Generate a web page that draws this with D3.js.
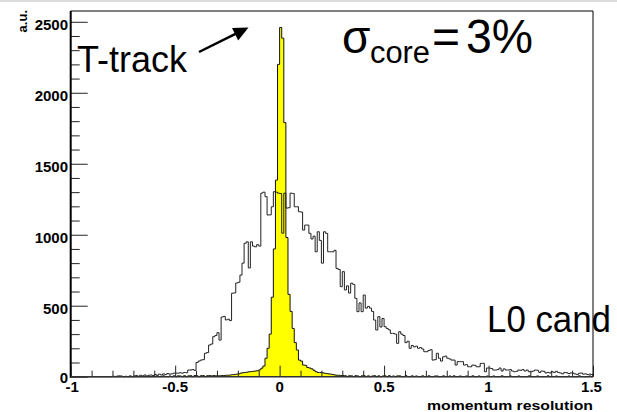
<!DOCTYPE html>
<html>
<head>
<meta charset="utf-8">
<script src="https://cdn.jsdelivr.net/npm/d3@7"></script>
<style>
  html, body { margin: 0; padding: 0; background: #fff; }
  svg { display: block; }
</style>
</head>
<body>
<svg id="chart" width="617" height="412"></svg>
<script>
// ---- data (250 bins of width 0.01 from -1 to 1.5) ----
const binStart = -1.0;
const binWidth = 0.01;

// L0 candidates (open histogram)
const l0Counts = [
  0,0,0,0,0,0,0,0,0,0,
  0,0,0,0,0,0,0,0,0,0,
  3,0,5,6,4,0,3,0,6,0,
  5,8,3,10,6,12,5,10,12,8,
  15,10,18,12,20,15,22,18,20,25,
  25,25,28,25,30,28,47,47,50,45,
  100,110,117,120,165,170,223,230,282,290,
  310,258,420,425,400,405,395,588,590,660,
  665,716,800,940,950,766,950,920,915,930,
  920,1293,1300,1268,1139,1140,1197,1303,1300,1293,
  1290,1011,1293,1188,1190,1293,1290,1197,1197,1162,
  1160,1033,1068,1068,1010,970,990,880,1021,960,
  800,1021,1010,880,880,880,890,763,755,634,
  740,611,640,589,659,650,552,458,520,458,
  575,483,495,483,460,399,329,423,350,410,
  352,340,330,305,305,300,235,317,300,290,
  240,250,200,220,210,215,200,205,195,176,
  176,185,190,117,120,165,130,110,140,145,
  130,125,117,117,82,106,106,106,82,85,
  70,70,82,80,70,70,94,94,35,61,
  61,58,47,47,50,61,40,55,47,47,
  50,40,35,38,47,45,50,40,47,35,
  35,40,47,45,30,40,38,26,30,26,
  35,30,38,30,26,20,30,28,22,26,
  25,20,15,24,26,18,20,15,18,16
];

// T-track (yellow filled histogram)
const tTrackCounts = [
  0,0,0,0,0,0,0,0,0,0,
  0,0,0,0,0,0,0,0,0,0,
  0,0,0,0,0,0,0,0,0,0,
  0,0,0,0,0,0,0,0,0,0,
  0,5,0,0,6,0,0,5,0,6,
  0,6,5,0,7,0,6,7,0,8,
  6,0,7,8,0,7,8,5,8,6,
  6,6,8,8,10,10,12,14,15,18,
  20,25,28,30,32,35,36,38,40,42,
  48,60,75,130,200,300,560,900,1385,2200,
  2460,2385,1790,980,580,460,340,240,188,117,
  110,82,80,65,61,55,45,35,30,30,
  28,25,22,20,18,15,12,10,10,8,
  8,7,0,7,6,0,7,5,0,6,
  7,0,6,0,5,7,0,6,0,5,
  6,0,7,0,5,0,6,6,0,0,
  7,0,0,6,0,5,0,0,6,0,
  0,6,0,0,5,5,0,0,6,0,
  0,5,0,6,0,0,5,0,0,5,
  0,0,6,0,0,5,0,0,0,5,
  0,0,5,0,0,0,6,0,0,0,
  5,0,0,0,5,0,0,0,0,6,
  0,0,0,5,0,0,0,0,6,0,
  0,0,5,0,0,0,0,0,5,0,
  0,0,0,6,0,0,0,0,5,0
];

const xTickValues = [-1, -0.5, 0, 0.5, 1, 1.5];
const xTickLabels = ["-1", "-0.5", "0", "0.5", "1", "1.5"];
const yTickValues = [0, 500, 1000, 1500, 2000, 2500];
const yTickLabels = ["0", "500", "1000", "1500", "2000", "2500"];
const xTitle = "momentum resolution";
const yTitle = "a.u.";

// ---- layout ----
const svg = d3.select("#chart");
const padL = 70.7, padR = 593, padT = 11, padB = 376.7;

const x = d3.scaleLinear().domain([-1, 1.5]).range([padL, padR]);
const y = d3.scaleLinear().domain([0, 2576]).range([padB, padT]);

// top light border of canvas
svg.append("rect").attr("x", 0).attr("y", 0).attr("width", 617).attr("height", 2).attr("fill", "#dcdcdc");

function stepPoints(counts) {
  const pts = [[binStart, 0]];
  counts.forEach((v, i) => {
    const lo = binStart + i * binWidth;
    const hi = lo + binWidth;
    pts.push([lo, v]);
    pts.push([hi, v]);
  });
  pts.push([binStart + counts.length * binWidth, 0]);
  return pts;
}

const line = d3.line().x(d => x(d[0])).y(d => y(d[1]));
const area = d3.area().x(d => x(d[0])).y0(y(0)).y1(d => y(d[1]));

const tPts = stepPoints(tTrackCounts);
svg.append("path").attr("d", area(tPts)).attr("fill", "#ffff00").attr("stroke", "none");
svg.append("path").attr("d", line(tPts)).attr("fill", "none").attr("stroke", "#111").attr("stroke-width", 1);

const lPts = stepPoints(l0Counts);
svg.append("path").attr("d", line(lPts)).attr("fill", "none").attr("stroke", "#222").attr("stroke-width", 1);

// frame
svg.append("line").attr("x1", padL).attr("x2", padR).attr("y1", padT).attr("y2", padT).attr("stroke", "#000").attr("stroke-width", 1);
svg.append("line").attr("x1", padR).attr("x2", padR).attr("y1", padT).attr("y2", padB).attr("stroke", "#000").attr("stroke-width", 1);

// Y axis
const yAxis = d3.axisRight(y).tickValues(d3.range(0, 2600, 100)).tickSize(9).tickFormat("");
const yg = svg.append("g").attr("transform", `translate(${padL},0)`).call(yAxis);
yg.select(".domain").remove();
yg.selectAll(".tick line").attr("stroke", "#222")
  .attr("x2", d => (d % 500 === 0 ? 17 : 9));
svg.append("line").attr("x1", padL).attr("x2", padL).attr("y1", padT).attr("y2", padB + 1).attr("stroke", "#000").attr("stroke-width", 2);

const font = "Liberation Sans, Arial, sans-serif";

yTickValues.forEach((v, i) => {
  svg.append("text").attr("x", 68).attr("y", y(v) + (v === 0 ? 6.5 : 8))
    .attr("text-anchor", "end")
    .attr("font-family", font)
    .attr("font-weight", "bold").attr("font-size", 15)
    .text(yTickLabels[i]);
});

// X axis
const xAxis = d3.axisTop(x).tickValues(d3.range(-10, 16, 1).map(d => d / 10)).tickSize(6).tickFormat("");
const xg = svg.append("g").attr("transform", `translate(0,${padB})`).call(xAxis);
xg.select(".domain").remove();
xg.selectAll(".tick line").attr("stroke", "#222")
  .attr("y2", d => (Math.abs(d * 2 - Math.round(d * 2)) < 1e-6 ? -11 : -6));
svg.append("line").attr("x1", padL).attr("x2", padR).attr("y1", padB).attr("y2", padB).attr("stroke", "#333").attr("stroke-width", 1.5);

xTickValues.forEach((v, i) => {
  svg.append("text").attr("x", x(v) + (v === -1 ? 1.5 : 0) - (v === 1.5 ? 1.5 : 0)).attr("y", 392)
    .attr("text-anchor", "middle")
    .attr("font-family", font)
    .attr("font-weight", "bold").attr("font-size", 15)
    .text(xTickLabels[i]);
});

// axis titles
svg.append("text").attr("x", 593).attr("y", 409.5)
  .attr("text-anchor", "end")
  .attr("font-family", font)
  .attr("font-weight", "bold").attr("font-size", 12.5)
  .attr("textLength", 166).attr("lengthAdjust", "spacingAndGlyphs")
  .text(xTitle);
svg.append("text").attr("transform", "translate(27,10) rotate(-90)")
  .attr("text-anchor", "end")
  .attr("font-family", font)
  .attr("font-weight", "bold").attr("font-size", 13)
  .text(yTitle);

// annotations
svg.append("text").attr("x", 77).attr("y", 72).attr("font-family", font).attr("font-size", 36)
  .attr("textLength", 110).attr("lengthAdjust", "spacingAndGlyphs").text("T-track");
svg.append("line").attr("x1", 199).attr("y1", 52).attr("x2", 237).attr("y2", 33.2)
  .attr("stroke", "#000").attr("stroke-width", 2.5);
svg.append("polygon").attr("points", "248.5,27.5 238.2,40.4 232.0,28.0").attr("fill", "#000");

svg.append("text").attr("x", 342).attr("y", 53).attr("font-family", font).attr("font-size", 46).text("σ");
svg.append("text").attr("x", 370).attr("y", 63).attr("font-family", font).attr("font-size", 31)
  .attr("textLength", 60).attr("lengthAdjust", "spacingAndGlyphs").text("core");
svg.append("text").attr("x", 432).attr("y", 53).attr("font-family", font).attr("font-size", 48).text("=");
svg.append("text").attr("x", 466).attr("y", 53).attr("font-family", font).attr("font-size", 48)
  .attr("textLength", 67).attr("lengthAdjust", "spacingAndGlyphs").text("3%");

svg.append("text").attr("x", 487).attr("y", 332).attr("font-family", font).attr("font-size", 36)
  .attr("textLength", 124).attr("lengthAdjust", "spacingAndGlyphs").text("L0 cand");
</script>
</body>
</html>
